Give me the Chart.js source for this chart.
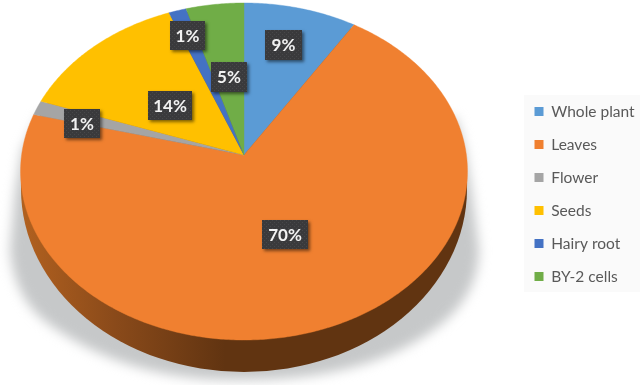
<!DOCTYPE html>
<html><head><meta charset="utf-8">
<style>html,body{margin:0;padding:0;background:#fff}canvas{display:block}</style>
<script src="https://cdn.jsdelivr.net/npm/chart.js@4"></script>
</head><body><canvas id="c" width="642" height="388"></canvas>
<script>
const categories = ["Whole plant","Leaves","Flower","Seeds","Hairy root","BY-2 cells"];
const shares = [9,70,1.4,13.6,1.4,4.6];
const colors = ["#5b9bd5","#f08030","#a5a5a5","#ffc000","#4472c4","#70ad47"];
const labelBoxes = [[265,30,37,30],[262,220,46,29],[64,109,36,29],[148,91,44,29],[170,21,35,29],[211,62,36,30]];

// perspective view of the disc: apex position, radius, tilt
const view = {cx:244, cy:155, R:222.4, b:166.9, tilt:0.0979};
const project = (th)=>{
  const u = Math.cos(th), v = Math.sin(th), w = 1 - view.tilt*v;
  return [view.cx + view.R*u/w, view.cy + view.b*v/w];
};

const pie3d = {
  id:'pie3d',
  afterLayout(chart){
    chart.legend.left = 517; chart.legend.right = 642;
  },
  beforeDraw(chart){
    const c = chart.ctx;
    c.save();
    c.fillStyle = '#fafafa';
    c.fillRect(524,95,116,197);
    // drop shadow, cut off at the picture's lower edge
    c.beginPath(); c.rect(0,0,642,385); c.clip();
    c.filter = 'blur(6px)';
    c.fillStyle = '#c6c8c9';
    c.beginPath();
    c.moveTo(40,115);
    c.lineTo(22,150); c.lineTo(15,194); c.lineTo(10,250);
    c.quadraticCurveTo(14,300,50,325);
    c.quadraticCurveTo(130,382,244,380);
    c.quadraticCurveTo(370,380,440,325);
    c.quadraticCurveTo(478,295,479,250);
    c.lineTo(472,194); c.lineTo(465,150); c.lineTo(456,118);
    c.closePath();
    c.fill();
    c.restore();
  },
  beforeDatasetsDraw(chart){
    const c = chart.ctx, arcs = chart.getDatasetMeta(0).data;
    // side wall
    c.save();
    const g = c.createLinearGradient(25,0,225,0);
    g.addColorStop(0,'#b0601f'); g.addColorStop(.45,'#8a4a1a'); g.addColorStop(1,'#613411');
    c.fillStyle = g;
    c.beginPath();
    c.ellipse(244,189,223,183,0,0,Math.PI*2);
    c.fill();
    c.restore();
    // top face: each slice keeps the library's start and end angle
    arcs.forEach((a,i)=>{
      const s = a.startAngle, e = a.endAngle, n = Math.max(4,Math.ceil((e-s)/0.01));
      c.beginPath();
      c.moveTo(view.cx,view.cy);
      for(let j=0;j<=n;j++){ const p = project(s+(e-s)*j/n); c.lineTo(p[0],p[1]); }
      c.closePath();
      c.fillStyle = colors[i];
      c.strokeStyle = colors[i];
      c.lineWidth = 0.4;
      c.fill(); c.stroke();
    });
    return false;
  },
  afterDraw(chart){
    const c = chart.ctx;
    const t = document.createElement('canvas'); t.width = t.height = 4;
    const tc = t.getContext('2d');
    tc.fillStyle = '#3a3a3c'; tc.fillRect(0,0,4,4);
    tc.fillStyle = '#48484a'; tc.fillRect(0,0,1,1); tc.fillRect(2,2,1,1);
    const pat = c.createPattern(t,'repeat');
    labelBoxes.forEach((b,i)=>{
      const [x,y,w,h] = b;
      c.save();
      c.shadowColor = 'rgba(0,0,0,.5)'; c.shadowBlur = 3; c.shadowOffsetX = 2; c.shadowOffsetY = 2;
      c.fillStyle = '#3a3a3c';
      c.fillRect(x,y,w,h);
      c.restore();
      c.save();
      c.fillStyle = pat; c.fillRect(x,y,w,h);
      c.fillStyle = '#f2f2f2';
      c.font = 'bold 17px Lato';
      c.textAlign = 'center'; c.textBaseline = 'middle';
      c.fillText(Math.round(shares[i])+'%', x+w/2, y+h/2+1);
      c.restore();
    });
  }
};

new Chart(document.getElementById('c'),{
  type:'pie',
  data:{labels:categories,datasets:[{data:shares,backgroundColor:colors,borderWidth:0}]},
  options:{
    responsive:false,animation:false,
    plugins:{
      tooltip:{enabled:false},
      legend:{
        position:'right',
        labels:{
          boxWidth:9,boxHeight:9,padding:17.5,color:'#595959',
          font:{family:'Lato',size:15.5}
        }
      }
    }
  },
  plugins:[pie3d]
});
</script></body></html>
